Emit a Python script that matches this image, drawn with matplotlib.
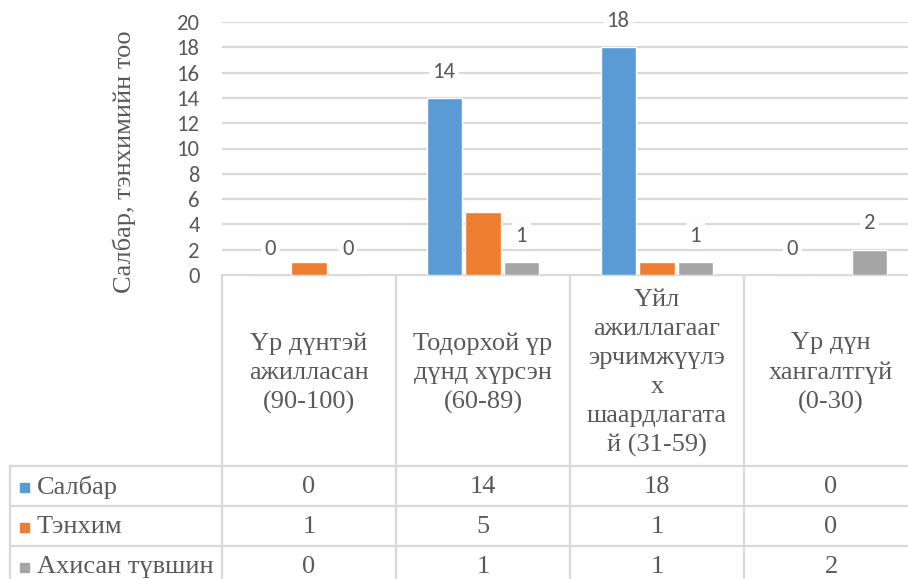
import matplotlib
matplotlib.use("Agg")
import matplotlib.pyplot as plt
from matplotlib.transforms import blended_transform_factory

# ---------------- data ----------------
categories = [
    "Үр дүнтэй\nажилласан\n(90-100)",
    "Тодорхой үр\nдүнд хүрсэн\n(60-89)",
    "Үйл\nажиллагааг\nэрчимжүүлэ\nх\nшаардлагата\nй (31-59)",
    "Үр дүн\nхангалтгүй\n(0-30)",
]
series_names = ["Салбар", "Тэнхим", "Ахисан түвшин"]
salbar = [0, 14, 18, 0]
tenkhim = [1, 5, 1, 0]
akhisan = [0, 1, 1, 2]
show_labels = [True, False, True]
y_ticks = [0, 2, 4, 6, 8, 10, 12, 14, 16, 18, 20]
y_label = "Салбар, тэнхимийн тоо"

colors = ["#5B9BD5", "#ED7D31", "#A5A5A5"]
text_gray = "#595959"
line_gray = "#D9D9D9"
serif = "Liberation Serif"
sans = "Carlito"

W, H = 908, 579
fig = plt.figure(figsize=(W / 100, H / 100), dpi=100)
fig.patch.set_facecolor("white")

# main plot area (right edge runs beyond the figure like the cropped original)
ax = fig.add_axes([222 / W, 1 - 275 / H, (918 - 222) / W, (275 - 22) / H])
ax.set_xlim(-0.5, len(categories) - 0.5)
ax.set_ylim(y_ticks[0], y_ticks[-1])
for s in ax.spines.values():
    s.set_visible(False)
ax.set_xticks([])
ax.set_yticks(y_ticks)
ax.set_yticklabels([str(t) for t in y_ticks], fontsize=16.3, color=text_gray, family=sans)
ax.tick_params(axis="y", length=0, pad=16)
ax.yaxis.grid(True, color=line_gray, lw=1.6)
ax.set_axisbelow(True)

series = [salbar, tenkhim, akhisan]
offsets = [-0.222, 0.0, 0.222]
bw = 0.205
for vals, off, col, lab in zip(series, offsets, colors, show_labels):
    xs = [i + off for i in range(len(categories))]
    ax.bar(xs, vals, width=bw, color=col, edgecolor="white", linewidth=1.0, zorder=2)
    if lab:
        for x, v in zip(xs, vals):
            ax.annotate(str(v), (x, v), xytext=(0, 19), textcoords="offset points",
                        ha="center", va="center", fontsize=16.3, color=text_gray,
                        family=sans, zorder=4,
                        bbox=dict(boxstyle="square,pad=0.15", fc="white", ec="none"))

fig.text(124 / W, 1 - 162 / H, y_label, rotation=90, ha="center", va="center",
         fontsize=19, color=text_gray, family=serif)

# overlay for the data table (pixel coordinates)
tab = fig.add_axes([0, 0, 1, 1], zorder=-1)
tab.set_xlim(0, W)
tab.set_ylim(H, 0)
tab.axis("off")
bt = blended_transform_factory(ax.transData, tab.transData)

lw = 1.6
n = len(categories)
tab.plot([-0.5, n - 0.5], [275, 275], color=line_gray, lw=lw, transform=bt, clip_on=False)
for e in range(n + 1):
    tab.plot([e - 0.5, e - 0.5], [275, 600], color=line_gray, lw=lw, transform=bt, clip_on=False)
row_top = 466
row_h = 40
for r in range(len(series) + 1):
    y = row_top + r * row_h
    tab.plot([10, 930], [y, y], color=line_gray, lw=lw, clip_on=False)
tab.plot([10, 10], [row_top, 600], color=line_gray, lw=lw, clip_on=False)

# header labels
for i, c in enumerate(categories):
    tab.text(i, 373, c, transform=bt, ha="center", va="center", multialignment="center",
             fontsize=19, color=text_gray, family=serif, linespacing=1.41)

# rows
for r, (name, vals, col) in enumerate(zip(series_names, series, colors)):
    yc = row_top + r * row_h + row_h / 2 + 1
    tab.add_patch(plt.Rectangle((20, yc - 4.5), 9, 9, color=col))
    tab.text(37, yc, name, ha="left", va="center", fontsize=19, color=text_gray, family=serif)
    for i, v in enumerate(vals):
        tab.text(i, yc, str(v), transform=bt, ha="center", va="center",
                 fontsize=19, color=text_gray, family=serif)

fig.savefig("out.png", dpi=100)
